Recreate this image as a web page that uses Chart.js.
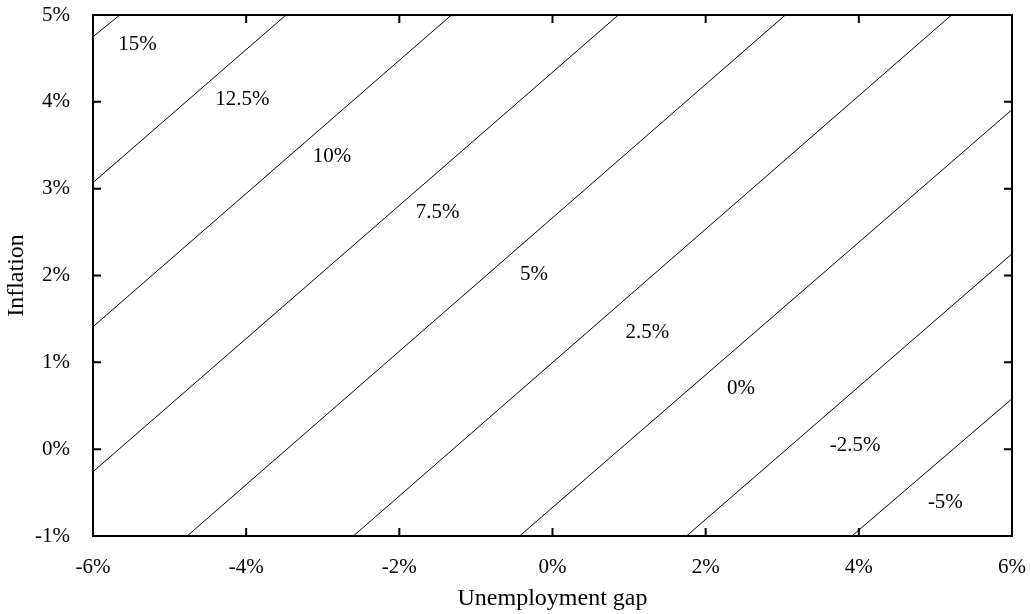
<!DOCTYPE html>
<html>
<head>
<meta charset="utf-8">
<script src="https://cdn.jsdelivr.net/npm/chart.js@4"></script>
<style>
html,body{margin:0;padding:0;background:#fff;}
#wrap{width:1030px;height:614px;}
</style>
</head>
<body>
<div id="wrap"><canvas id="c" width="1030" height="614"></canvas></div>
<script>
// Contour levels (policy rate) and the endpoints of each straight contour line
const contourLevels = ['15%', '12.5%', '10%', '7.5%', '5%', '2.5%', '0%', '-2.5%', '-5%'];
const lineStartX = [-6, -6, -6, -6, -4.77, -2.60, -0.43, 1.75, 3.91];
const lineStartY = [4.75, 3.07, 1.41, -0.26, -1, -1, -1, -1, -1];
const lineEndX = [-5.65, -3.48, -1.32, 0.86, 3.04, 5.21, 6, 6, 6];
const lineEndY = [5, 5, 5, 5, 5, 5, 3.91, 2.25, 0.58];
// Label anchor points (data units)
const labelX = [-5.42, -4.05, -2.88, -1.50, -0.24, 1.24, 2.46, 3.95, 5.13];
const labelY = [4.66, 4.03, 3.37, 2.72, 2.01, 1.34, 0.70, 0.04, -0.61];
// Axis ticks
const xTicks = [-6, -4, -2, 0, 2, 4, 6];
const yTicks = [-1, 0, 1, 2, 3, 4, 5];

const FONT = "'Liberation Serif', 'Times New Roman', serif";
const FS = 21;
const TFS = 24;

const datasets = contourLevels.map((lv, i) => ({
  label: lv,
  data: [{x: lineStartX[i], y: lineStartY[i]}, {x: lineEndX[i], y: lineEndY[i]}],
  borderColor: '#000',
  borderWidth: 1,
  pointRadius: 0,
  showLine: true,
  fill: false
}));

const framePlugin = {
  id: 'frame',
  afterDatasetsDraw(chart) {
    const ctx = chart.ctx;
    const a = chart.chartArea;
    const xs = chart.scales.x, ys = chart.scales.y;
    ctx.save();
    ctx.fillStyle = '#000';
    ctx.font = FS + 'px ' + FONT;
    ctx.textAlign = 'center';
    ctx.textBaseline = 'middle';
    contourLevels.forEach((lv, i) => {
      ctx.fillText(lv, xs.getPixelForValue(labelX[i]), ys.getPixelForValue(labelY[i]));
    });
    ctx.strokeStyle = '#000';
    ctx.lineWidth = 2;
    const TL = 8;
    ctx.beginPath();
    xTicks.forEach(v => {
      const px = xs.getPixelForValue(v);
      ctx.moveTo(px, a.bottom); ctx.lineTo(px, a.bottom - TL);
      ctx.moveTo(px, a.top); ctx.lineTo(px, a.top + TL);
    });
    yTicks.forEach(v => {
      const py = ys.getPixelForValue(v);
      ctx.moveTo(a.left, py); ctx.lineTo(a.left + TL, py);
      ctx.moveTo(a.right, py); ctx.lineTo(a.right - TL, py);
    });
    ctx.stroke();
    ctx.strokeRect(a.left, a.top, a.right - a.left, a.bottom - a.top);
    ctx.restore();
  }
};

function zeroPad(scale) {
  scale.paddingLeft = 0; scale.paddingRight = 0;
  scale.paddingTop = 0; scale.paddingBottom = 0;
}

new Chart(document.getElementById('c'), {
  type: 'scatter',
  data: { datasets },
  options: {
    responsive: false,
    animation: false,
    events: [],
    layout: { padding: { left: 0, right: 18, top: 15, bottom: 0 } },
    plugins: { legend: { display: false }, tooltip: { enabled: false } },
    scales: {
      x: {
        type: 'linear', min: -6, max: 6,
        afterFit(scale) { scale.height = 78; zeroPad(scale); },
        afterBuildTicks(scale) { scale.ticks = xTicks.map(v => ({value: v})); },
        grid: { display: false, drawTicks: false },
        border: { display: false },
        ticks: { padding: 19, color: '#000', font: { family: FONT, size: FS }, callback: v => v + '%', maxRotation: 0, autoSkip: false },
        title: { display: true, text: 'Unemployment gap', color: '#000', font: { family: FONT, size: TFS }, padding: { top: 0, bottom: 1 } }
      },
      y: {
        type: 'linear', min: -1, max: 5,
        afterFit(scale) { scale.width = 93; zeroPad(scale); },
        afterBuildTicks(scale) { scale.ticks = yTicks.map(v => ({value: v})); },
        grid: { display: false, drawTicks: false },
        border: { display: false },
        ticks: { padding: 23, color: '#000', font: { family: FONT, size: FS }, callback: v => v + '%', autoSkip: false },
        title: { display: true, text: 'Inflation', color: '#000', font: { family: FONT, size: TFS }, padding: { top: 2, bottom: 0 } }
      }
    }
  },
  plugins: [framePlugin]
});
</script>
</body>
</html>
